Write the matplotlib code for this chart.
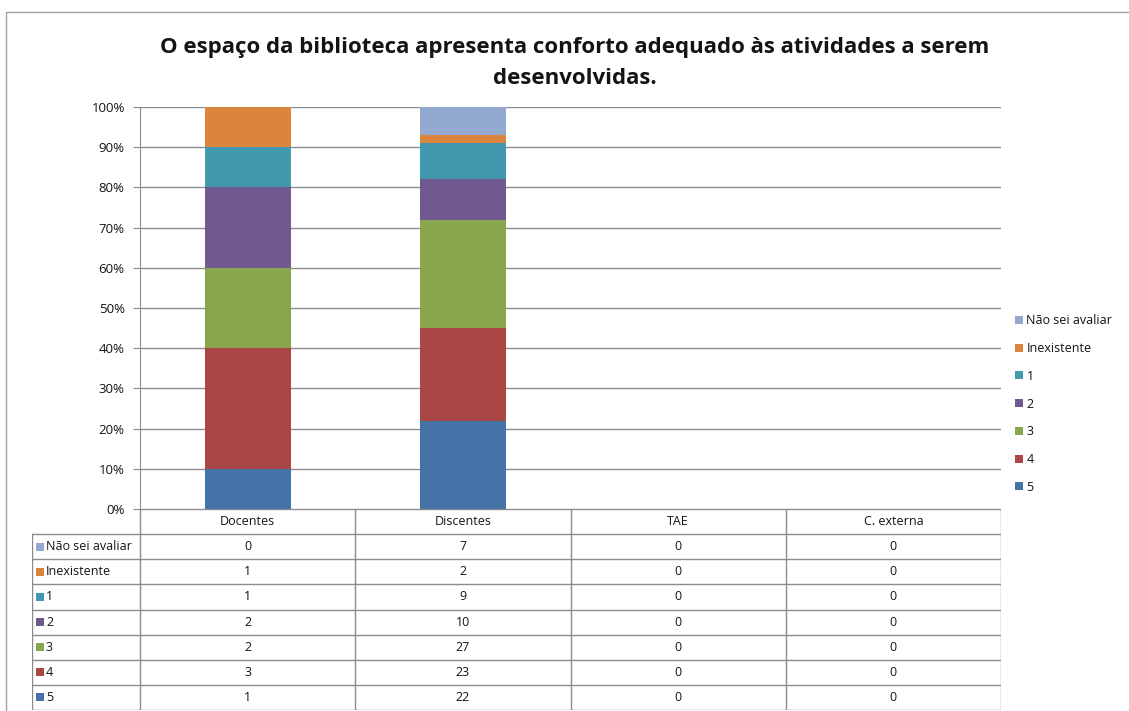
import numpy as np
import matplotlib
matplotlib.use("Agg")
import matplotlib.pyplot as plt
from matplotlib.patches import Rectangle

plt.rcParams['font.family'] = ['Open Sans', 'DejaVu Sans']

# survey answers per group, stacked from bottom (5) to top (Não sei avaliar)
categories = ['Docentes', 'Discentes', 'TAE', 'C. externa']
series = ['5', '4', '3', '2', '1', 'Inexistente', 'Não sei avaliar']
counts = {
    '5': [1, 22, 0, 0],
    '4': [3, 23, 0, 0],
    '3': [2, 27, 0, 0],
    '2': [2, 10, 0, 0],
    '1': [1, 9, 0, 0],
    'Inexistente': [1, 2, 0, 0],
    'Não sei avaliar': [0, 7, 0, 0],
}
colors = {
    '5': '#4572A7',
    '4': '#AA4643',
    '3': '#89A54E',
    '2': '#71588F',
    '1': '#4198AF',
    'Inexistente': '#DB843D',
    'Não sei avaliar': '#93A9CF',
}
title = 'O espaço da biblioteca apresenta conforto adequado às atividades a serem\ndesenvolvidas.'

W, H = 1129, 711
fig = plt.figure(figsize=(W / 100, H / 100), dpi=100)
grid_col = '#8C8C8C'
txt_col = '#141414'


def fx(px):
    return px / W


def fy(py):
    return 1 - py / H


# outer chart frame
fig.patches.append(Rectangle((fx(6), fy(1200)), fx(1200), fy(12) - fy(1200),
                             transform=fig.transFigure, fill=False,
                             edgecolor='#A0A0A0', linewidth=1))

fig.text(fx(575), fy(63), title, ha='center', va='center', fontsize=16,
         fontweight='bold', color=txt_col, linespacing=1.62)

# stacked percentage bars
ax = fig.add_axes([fx(140), fy(509), fx(1001) - fx(140), fy(107) - fy(509)])
data = np.array([counts[s] for s in series], dtype=float)
totals = data.sum(axis=0)
pct = np.divide(data, totals, out=np.zeros_like(data), where=totals > 0) * 100
x = np.arange(len(categories)) + 0.5
bottom = np.zeros(len(categories))
handles = []
for s, row in zip(series, pct):
    b = ax.bar(x, row, width=0.4, bottom=bottom, color=colors[s], label=s, zorder=3)
    handles.append(b)
    bottom += row

ax.set_xlim(0, len(categories))
ax.set_ylim(0, 100)
ax.set_yticks(np.arange(0, 101, 10))
ax.set_yticklabels([f'{v}%' for v in range(0, 101, 10)], fontsize=9.5, color=txt_col)
ax.set_xticks([])
ax.grid(axis='y', color=grid_col, linewidth=1, zorder=0)
for side in ['top', 'right', 'bottom']:
    ax.spines[side].set_visible(False)
ax.spines['left'].set_color(grid_col)
ax.tick_params(axis='y', length=5, color=grid_col, pad=6)

leg = fig.legend(handles[::-1], series[::-1], loc='center left',
                 bbox_to_anchor=(fx(1004), fy(404)), frameon=False, fontsize=9,
                 handlelength=0.6, handleheight=0.6, handletextpad=0.3,
                 labelspacing=1.18)
for t in leg.get_texts():
    t.set_color(txt_col)

# data table below the bars
lab_w = 108 / 215.25
tab = fig.add_axes([fx(32), fy(710), fx(1001) - fx(32), fy(509) - fy(710)])
n_rows = len(series)
tab.set_xlim(-lab_w, len(categories))
tab.set_ylim(n_rows + 1, 0)
tab.axis('off')

lw = 1
# header row lines
tab.plot([0, len(categories)], [0, 0], color=grid_col, lw=lw)
for i in range(len(categories) + 1):
    tab.plot([i, i], [0, n_rows + 1], color=grid_col, lw=lw)
tab.plot([-lab_w, -lab_w], [1, n_rows + 1], color=grid_col, lw=lw)
for r in range(1, n_rows + 2):
    tab.plot([-lab_w, len(categories)], [r, r], color=grid_col, lw=lw)

for i, c in enumerate(categories):
    tab.text(i + 0.5, 0.5, c, ha='center', va='center', fontsize=9, color=txt_col)

for r, s in enumerate(series[::-1]):
    yy = r + 1.5
    tab.scatter(-lab_w + 0.035, yy, marker='s', s=28, color=colors[s], linewidths=0)
    tab.text(-lab_w + 0.065, yy, s, ha='left', va='center', fontsize=9, color=txt_col)
    for i, v in enumerate(counts[s]):
        tab.text(i + 0.5, yy, str(v), ha='center', va='center', fontsize=9, color=txt_col)

fig.savefig('out.png', dpi=100)
